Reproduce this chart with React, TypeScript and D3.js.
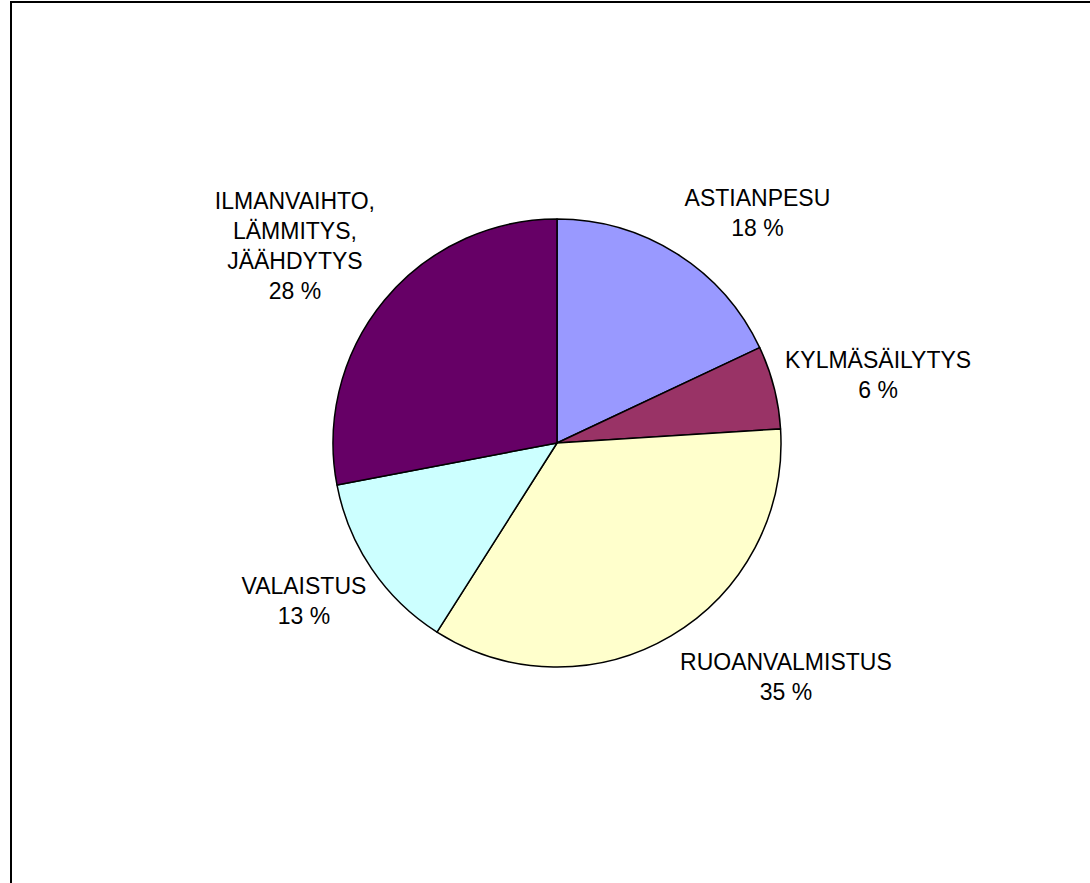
import React from "react";
import * as d3 from "d3";

const categories: string[][] = [
  ["ASTIANPESU"],
  ["KYLMÄSÄILYTYS"],
  ["RUOANVALMISTUS"],
  ["VALAISTUS"],
  ["ILMANVAIHTO,", "LÄMMITYS,", "JÄÄHDYTYS"],
];
const values: number[] = [18, 6, 35, 13, 28];
const colors: string[] = ["#9999FF", "#993366", "#FFFFCC", "#CCFFFF", "#660066"];
// label nudges relative to label-arc centroid
const labelNudges: [number, number][] = [
  [30, 39],
  [13, 11],
  [67, -40],
  [10, -21],
  [-17, 6],
];

const W = 1090;
const H = 883;
const CX = 557;
const CY = 443;
const R = 224;
const LINE = 30;

export default function App() {
  const pie = d3
    .pie<number>()
    .sort(null)
    .value((d) => d)
    .startAngle(0)
    .endAngle(2 * Math.PI);
  const arcs = pie(values);
  const arc = d3.arc<d3.PieArcDatum<number>>().innerRadius(0).outerRadius(R);
  const labelArc = d3
    .arc<d3.PieArcDatum<number>>()
    .innerRadius(R * 1.42)
    .outerRadius(R * 1.42);
  const total = d3.sum(values);

  return (
    <svg
      width={W}
      height={H}
      style={{ position: "absolute", left: 0, top: 0, background: "#fff" }}
      fontFamily="Arial, 'Liberation Sans', sans-serif"
    >
      <rect x={0} y={0} width={W} height={H} fill="#fff" />
      <rect x={11} y={2} width={W + 100} height={H + 100} fill="none" stroke="#000" strokeWidth={2} />
      <g transform={`translate(${CX},${CY})`}>
        {arcs.map((a, i) => (
          <path key={i} d={arc(a) || ""} fill={colors[i]} stroke="#000" strokeWidth={1.5} strokeLinejoin="round" />
        ))}
        {arcs.map((a, i) => {
          const [lx, ly] = labelArc.centroid(a);
          const x = lx + labelNudges[i][0];
          const y = ly + labelNudges[i][1];
          const lines = [...categories[i], `${Math.round((values[i] / total) * 100)} %`];
          const n = lines.length;
          const firstBase = y - ((n - 1) * LINE) / 2 + 8;
          return (
            <text key={"t" + i} x={x} y={firstBase} textAnchor="middle" fontSize={23} fill="#000">
              {lines.map((l, j) => (
                <tspan key={j} x={x} y={firstBase + j * LINE}>
                  {l}
                </tspan>
              ))}
            </text>
          );
        })}
      </g>
    </svg>
  );
}
